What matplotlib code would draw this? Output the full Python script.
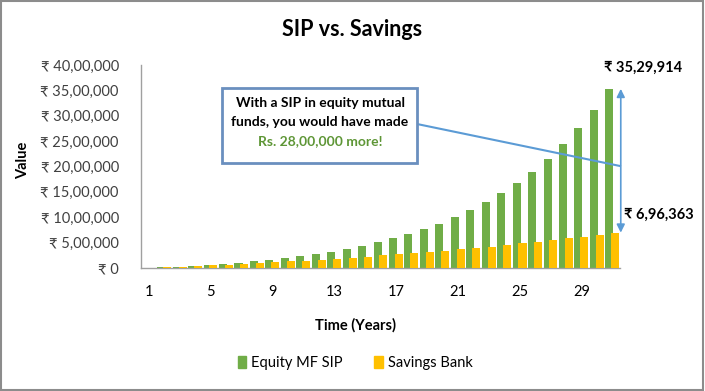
import numpy as np
import matplotlib
matplotlib.use("Agg")
import matplotlib.pyplot as plt
from matplotlib.patches import Patch, Rectangle
from matplotlib.lines import Line2D

plt.rcParams['font.family'] = ['Lato', 'DejaVu Sans']

# year 1 is the starting point (nothing invested yet), year 31 = 30 years of SIP
years = list(range(1, 32))
equity = [0, 12809, 27243, 43508, 61835, 82486, 105757, 131979, 161527, 194822,
          232339, 274615, 322252, 375931, 436418, 504576, 581378, 667921, 765439,
          875325, 999148, 1138674, 1295896, 1473058, 1672689, 1897635, 2151110,
          2436731, 2758575, 3121238, 3529914]
savings = [0, 12263, 25026, 38309, 52133, 66520, 81493, 97076, 113294, 130173,
           147740, 166022, 185049, 204851, 225460, 246909, 269232, 292464, 316642,
           341806, 367995, 395251, 423617, 453140, 483865, 515843, 549123, 583758,
           619805, 657321, 696363]
ytick_values = [0, 500000, 1000000, 1500000, 2000000, 2500000, 3000000, 3500000, 4000000]
ytick_labels = ['₹ 0', '₹ 5,00,000', '₹ 10,00,000', '₹ 15,00,000', '₹ 20,00,000',
                '₹ 25,00,000', '₹ 30,00,000', '₹ 35,00,000', '₹ 40,00,000']
series_names = ['Equity MF SIP', 'Savings Bank']
top_label = '₹ 35,29,914'
bottom_label = '₹ 6,96,363'

GREEN = '#70AD47'
YELLOW = '#FFC000'
BLUE = '#5B9BD5'
W, H = 705, 391


def px(x, y):
    # pixel position (from top-left) -> figure fraction
    return x / W, 1 - y / H


fig = plt.figure(figsize=(W / 100, H / 100), dpi=100)
ax = fig.add_axes([141 / W, 1 - 268 / H, (620 - 141) / W, (268 - 65) / H])

x = np.arange(len(years))
ax.bar(x - 0.19, equity, width=0.52, color=GREEN, zorder=2)
ax.bar(x + 0.19, savings, width=0.52, color=YELLOW, zorder=3)

ax.set_xlim(-0.5, len(years) - 0.5)
ax.set_ylim(0, 4000000)
ax.set_yticks(ytick_values)
ax.set_yticklabels(ytick_labels)
ax.set_xticks(x[::4])
ax.set_xticklabels([str(y) for y in years[::4]])
ax.tick_params(axis='y', length=0, labelsize=10.5, pad=16, colors='#404040')
ax.tick_params(axis='x', length=0, labelsize=10.5, pad=12, colors='#000000')
for lbl in ax.get_yticklabels():
    lbl.set_color('#404040')

for s in ['top', 'right']:
    ax.spines[s].set_visible(False)
for s in ['left', 'bottom']:
    ax.spines[s].set_color('#A0A0A0')
    ax.spines[s].set_linewidth(1.0)

# double arrow showing the gap between the two final values
ax.annotate('', xy=(len(years) - 0.45, equity[-1]), xytext=(len(years) - 0.45, savings[-1]),
            arrowprops=dict(arrowstyle='<|-|>', color=BLUE, lw=1.2,
                            shrinkA=0, shrinkB=0, mutation_scale=12),
            annotation_clip=False)

fig.text(*px(604, 68), top_label, ha='left', va='center', fontsize=10.5, fontweight='bold')
fig.text(*px(624, 215), bottom_label, ha='left', va='center', fontsize=10.5, fontweight='bold')

# callout box + connector
fig.add_artist(Line2D([417 / W, 620 / W], [1 - 124 / H, 1 - 166 / H],
                      transform=fig.transFigure, color=BLUE, lw=1.5, zorder=4))
fig.add_artist(Rectangle(px(222, 163), 195 / W, 75 / H, transform=fig.transFigure,
                         facecolor='white', edgecolor='#6A8FBF', lw=2, zorder=5))
fig.text(*px(320, 103), 'With a SIP in equity mutual', ha='center', va='center',
         fontsize=10, fontweight='bold', zorder=6)
fig.text(*px(320, 122), 'funds, you would have made', ha='center', va='center',
         fontsize=10, fontweight='bold', zorder=6)
fig.text(*px(320, 141), 'Rs. 28,00,000 more!', ha='center', va='center',
         fontsize=10, fontweight='bold', color='#5E9636', zorder=6)

fig.text(*px(352, 30), 'SIP vs. Savings', ha='center', va='center', fontsize=15.5, fontweight='bold')
fig.text(*px(23, 160), 'Value', ha='center', va='center', rotation=90, fontsize=10.5, fontweight='bold')
fig.text(*px(356, 325), 'Time (Years)', ha='center', va='center', fontsize=10.5, fontweight='bold')

handles = [Patch(color=GREEN, label=series_names[0]), Patch(color=YELLOW, label=series_names[1])]
fig.legend(handles=handles, loc='center', bbox_to_anchor=px(355, 363), ncol=2, frameon=False,
           fontsize=10.5, handlelength=0.6, handleheight=0.9, handletextpad=0.3, columnspacing=2.2)

# chart area border
fig.add_artist(Rectangle((0.002, 0.003), 0.995, 0.994, transform=fig.transFigure,
                         fill=False, edgecolor='#8C8C8C', lw=1.5))

fig.savefig('out.png', dpi=100)
